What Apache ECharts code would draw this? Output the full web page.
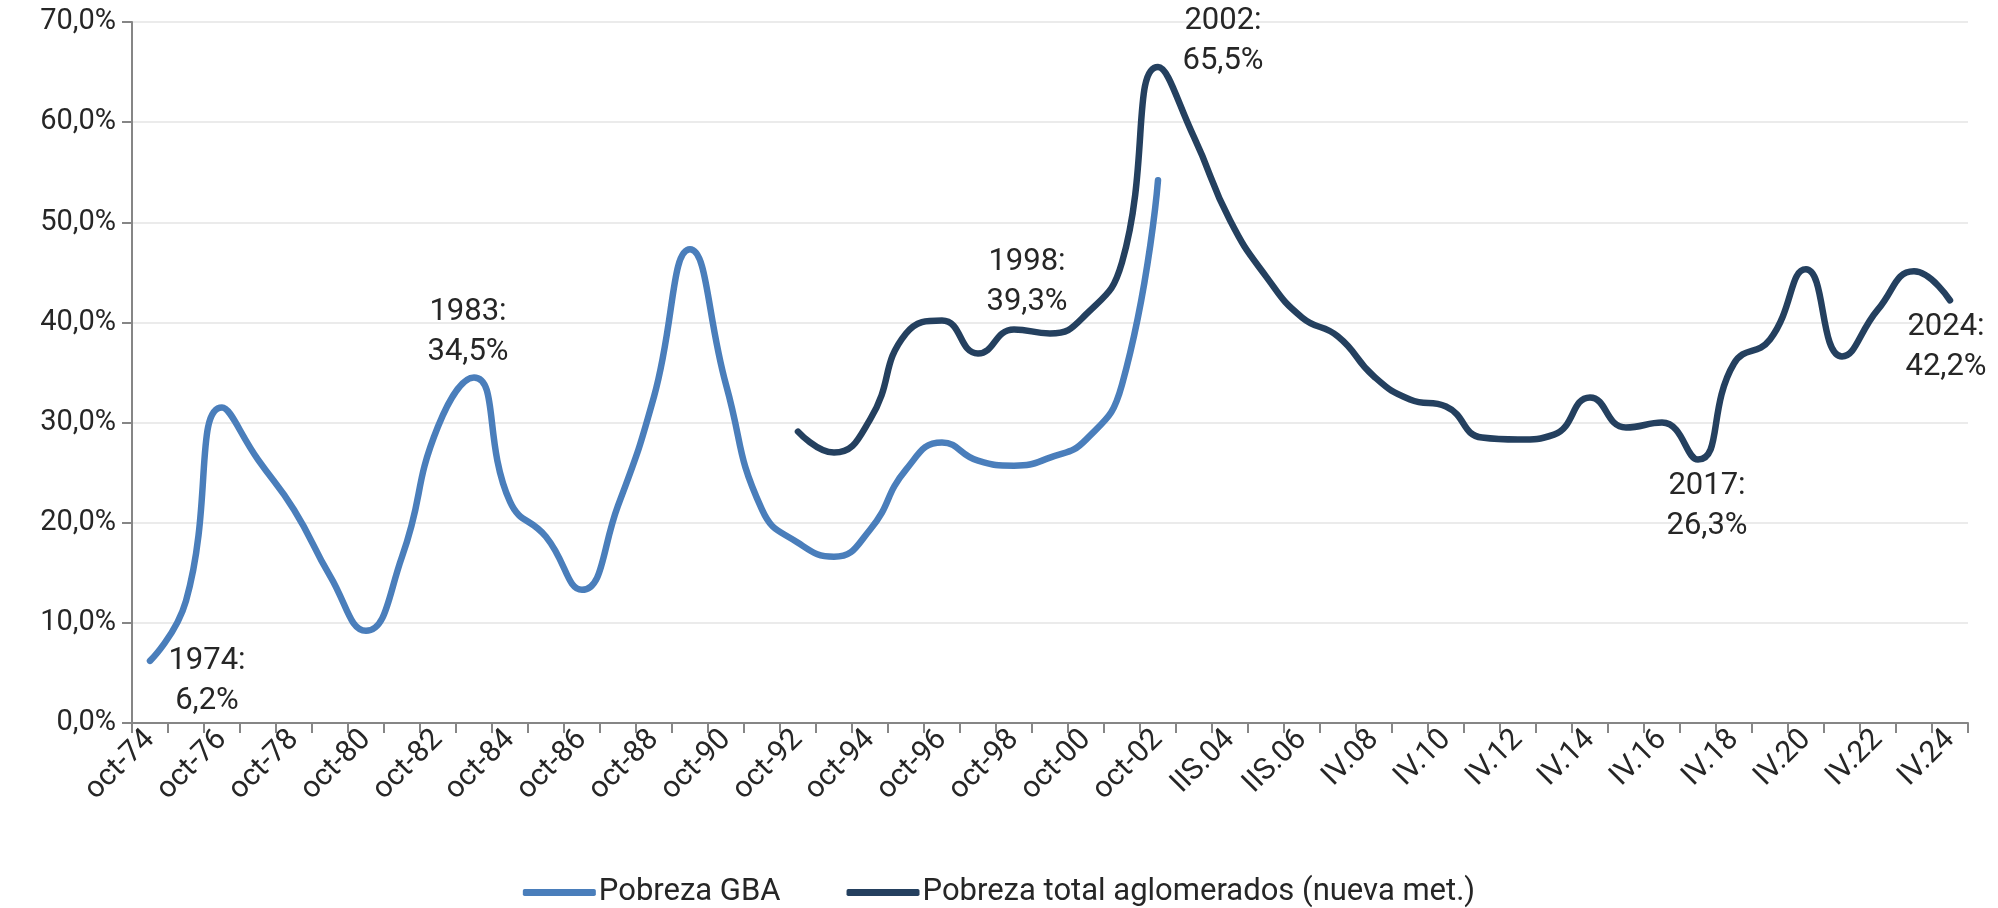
<!DOCTYPE html>
<html>
<head>
<meta charset="utf-8">
<script src="https://cdn.jsdelivr.net/npm/echarts@6/dist/echarts.min.js"></script>
<style>
  html, body { margin: 0; padding: 0; background: #ffffff; }
  #chart { width: 1998px; height: 908px; }
</style>
</head>
<body>
<div id="chart"></div>
<script>
// ---- DATA ----
const categories = [
  'oct-74','oct-75','oct-76','oct-77','oct-78','oct-79','oct-80','oct-81','oct-82','oct-83',
  'oct-84','oct-85','oct-86','oct-87','oct-88','oct-89','oct-90','oct-91','oct-92','oct-93',
  'oct-94','oct-95','oct-96','oct-97','oct-98','oct-99','oct-00','oct-01','oct-02',
  'IIS.03','IIS.04','IIS.05','IIS.06','IV.07','IV.08','IV.09','IV.10','IV.11','IV.12','IV.13',
  'IV.14','IV.15','IV.16','IV.17','IV.18','IV.19','IV.20','IV.21','IV.22','IV.23','IV.24'
];
const pobrezaGBA = [
  6.2, 12.2, 31.5, 26.3, 21.3, 14.7, 9.2, 16.6, 29.6, 34.5,
  22.1, 18.6, 13.3, 21.7, 32.6, 47.3, 33.8, 21.3, 18.0, 16.6,
  19.3, 25.3, 28.0, 26.2, 25.7, 26.5, 28.3, 33.8, 54.2
];
const pobrezaTotal = [
  29.1, 27.0, 30.3, 38.9, 40.2, 36.9, 39.3, 38.9, 40.8, 46.0,
  65.5, 58.5, 50.2, 44.6, 40.5, 38.6, 34.6, 32.3, 31.6, 28.5,
  28.3, 28.8, 32.5, 29.5, 30.0, 26.3, 35.9, 38.3, 45.3, 36.6,
  41.3, 45.1, 42.2
];
const totalStartIndex = 18;
const seriesNames = ['Pobreza GBA', 'Pobreza total aglomerados (nueva met.)'];
const yTicks = [0, 10, 20, 30, 40, 50, 60, 70];
// annotations: [series index, category index, value, text]
const annotSeries = [0, 0, 1, 1, 1, 1];
const annotIndex  = [0, 9, 24, 28, 43, 50];
const annotValue  = [6.2, 34.5, 39.3, 65.5, 26.3, 42.2];
const annotText   = ['1974:\n6,2%', '1983:\n34,5%', '1998:\n39,3%', '2002:\n65,5%', '2017:\n26,3%', '2024:\n42,2%'];

// ---- BUILD ----
const FONT = 'Roboto, "Liberation Sans", sans-serif';
const TXT = '#262626';
const annotOffsets = [[57, 20], [-6, -45], [13, -47], [65, -26], [9, 47], [-4, 47]];

const gbaData = categories.map((c, i) => i < pobrezaGBA.length ? pobrezaGBA[i] : null);
const totalData = categories.map((c, i) => {
  const k = i - totalStartIndex;
  return (k >= 0 && k < pobrezaTotal.length) ? pobrezaTotal[k] : null;
});

function markPointsFor(s) {
  const out = [];
  for (let k = 0; k < annotSeries.length; k++) {
    if (annotSeries[k] !== s) continue;
    out.push({
      coord: [annotIndex[k], annotValue[k]],
      label: { offset: annotOffsets[k], formatter: annotText[k] }
    });
  }
  return {
    symbol: 'circle',
    symbolSize: 1,
    itemStyle: { color: 'rgba(0,0,0,0)' },
    silent: true,
    label: {
      show: true,
      position: 'inside',
      align: 'center',
      verticalAlign: 'middle',
      color: TXT,
      fontFamily: FONT,
      fontSize: 31,
      lineHeight: 40
    },
    data: out
  };
}

const chart = echarts.init(document.getElementById('chart'), null, { renderer: 'canvas' });
chart.setOption({
  animation: false,
  backgroundColor: '#ffffff',
  grid: { left: 132, right: 30, top: 22, bottom: 185, containLabel: false },
  legend: {
    data: [
      { name: seriesNames[0], icon: 'roundRect' },
      { name: seriesNames[1], icon: 'roundRect' }
    ],
    left: 'center',
    top: 872,
    itemWidth: 73,
    itemHeight: 7,
    itemGap: 66,
    textStyle: { fontFamily: FONT, fontSize: 31, color: TXT, padding: [0, 0, 0, -2] }
  },
  xAxis: {
    type: 'category',
    data: categories,
    boundaryGap: true,
    axisLine: { show: true, lineStyle: { color: '#868686', width: 2 } },
    axisTick: { show: true, interval: 0, alignWithLabel: false, length: 10, lineStyle: { color: '#868686', width: 2 } },
    axisLabel: {
      interval: 1,
      rotate: 45,
      margin: 12,
      fontFamily: FONT,
      fontSize: 30,
      color: TXT
    },
    splitLine: { show: false }
  },
  yAxis: {
    type: 'value',
    min: yTicks[0],
    max: yTicks[yTicks.length - 1],
    interval: 10,
    axisLine: { show: true, lineStyle: { color: '#868686', width: 2 } },
    axisTick: { show: true, length: 10, lineStyle: { color: '#868686', width: 2 } },
    axisLabel: {
      margin: 16,
      fontFamily: FONT,
      fontSize: 29,
      color: TXT,
      formatter: v => v.toFixed(1).replace('.', ',') + '%'
    },
    splitLine: { show: true, lineStyle: { color: '#ebebeb', width: 2 } }
  },
  series: [
    {
      name: seriesNames[0],
      type: 'line',
      data: gbaData,
      smooth: 0.5,
      showSymbol: false,
      symbol: 'none',
      connectNulls: false,
      lineStyle: { color: '#4a7ebb', width: 6.5, cap: 'round', join: 'round' },
      itemStyle: { color: '#4a7ebb' },
      markPoint: markPointsFor(0),
      z: 2
    },
    {
      name: seriesNames[1],
      type: 'line',
      data: totalData,
      smooth: 0.5,
      showSymbol: false,
      symbol: 'none',
      connectNulls: false,
      lineStyle: { color: '#24405f', width: 6.5, cap: 'round', join: 'round' },
      itemStyle: { color: '#24405f' },
      markPoint: markPointsFor(1),
      z: 3
    }
  ]
});
</script>
</body>
</html>
